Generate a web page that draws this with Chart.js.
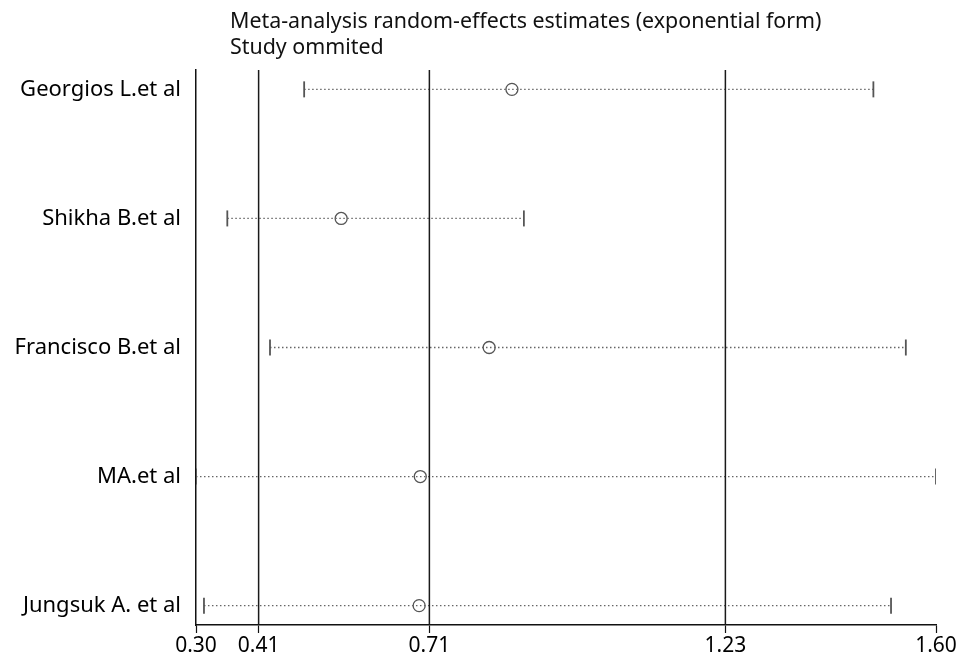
<!DOCTYPE html>
<html>
<head>
<meta charset="utf-8">
<script src="https://cdn.jsdelivr.net/npm/chart.js@4"></script>
<style>
  html, body { margin: 0; padding: 0; background: #fff; }
  #wrap { width: 976px; height: 660px; }
</style>
</head>
<body>
<div id="wrap"><canvas id="chart" width="976" height="660"></canvas></div>
<script>
// datos
const titleLines = ['Meta-analysis random-effects estimates (exponential form)', 'Study ommited'];
const studies = ['Georgios L.et al', 'Shikha B.et al', 'Francisco B.et al', 'MA.et al', 'Jungsuk A. et al'];
const estimate = [0.855, 0.555, 0.815, 0.694, 0.692];
const lower = [0.49, 0.355, 0.43, 0.30, 0.314];
const upper = [1.49, 0.876, 1.547, 1.60, 1.521];
const refLines = [0.41, 0.71, 1.23];
const xTicks = [0.30, 0.41, 0.71, 1.23, 1.60];

const FONT = "'Noto Sans', 'Open Sans', sans-serif";
const Y_MIN = -0.15, Y_MAX = 4.15;

const datasets = [];

// líneas verticales de la estimación global
refLines.forEach(v => {
  datasets.push({
    type: 'line',
    data: [{ x: v, y: Y_MIN }, { x: v, y: Y_MAX }],
    borderColor: '#1a1a1a',
    borderWidth: 1.5,
    pointRadius: 0
  });
});

// intervalos de confianza con topes
studies.forEach((s, i) => {
  datasets.push({
    type: 'line',
    data: [{ x: lower[i], y: i }, { x: upper[i], y: i }],
    borderColor: '#666',
    borderWidth: 1.3,
    borderDash: [1.5, 2.5],
    pointStyle: 'line',
    rotation: 90,
    pointRadius: 8,
    pointBorderColor: '#555',
    pointBorderWidth: 1.8
  });
});

// estimaciones puntuales
datasets.push({
  type: 'scatter',
  data: studies.map((s, i) => ({ x: estimate[i], y: i })),
  pointStyle: 'circle',
  pointRadius: 6,
  pointBackgroundColor: '#fff',
  pointBorderColor: '#555',
  pointBorderWidth: 1.3
});

const titlePlugin = {
  id: 'titleText',
  afterDraw(chart) {
    const ctx = chart.ctx;
    ctx.save();
    ctx.fillStyle = '#111';
    ctx.font = `21.4px ${FONT}`;
    ctx.textBaseline = 'middle';
    ctx.textAlign = 'left';
    titleLines.forEach((t, i) => ctx.fillText(t, 230, 22 + i * 26));
    ctx.restore();
  }
};

new Chart(document.getElementById('chart'), {
  type: 'scatter',
  data: { datasets },
  plugins: [titlePlugin],
  options: {
    responsive: false,
    animation: false,
    layout: { padding: { top: 70, right: 40, left: 0, bottom: 0 } },
    plugins: { legend: { display: false }, tooltip: { enabled: false } },
    scales: {
      x: {
        type: 'linear',
        min: 0.30,
        max: 1.60,
        afterBuildTicks: axis => { axis.ticks = xTicks.map(v => ({ value: v })); },
        afterFit: axis => { axis.height = 35; },
        ticks: {
          color: '#000',
          font: { family: FONT, size: 21 },
          padding: 0,
          maxRotation: 0,
          autoSkip: false,
          callback: v => Number(v).toFixed(2)
        },
        grid: { drawOnChartArea: false, tickLength: 8, color: '#111', tickWidth: 1.2 },
        border: { display: true, color: '#111', width: 1.5 }
      },
      y: {
        type: 'linear',
        reverse: true,
        min: Y_MIN,
        max: Y_MAX,
        afterBuildTicks: axis => { axis.ticks = studies.map((s, i) => ({ value: i })); },
        afterFit: axis => { axis.width = 196; },
        ticks: {
          color: '#000',
          font: { family: FONT, size: 22 },
          padding: 15,
          autoSkip: false,
          callback: v => studies[v]
        },
        grid: { display: false, drawTicks: false },
        border: { display: true, color: '#111', width: 1.5 }
      }
    }
  }
});
</script>
</body>
</html>
